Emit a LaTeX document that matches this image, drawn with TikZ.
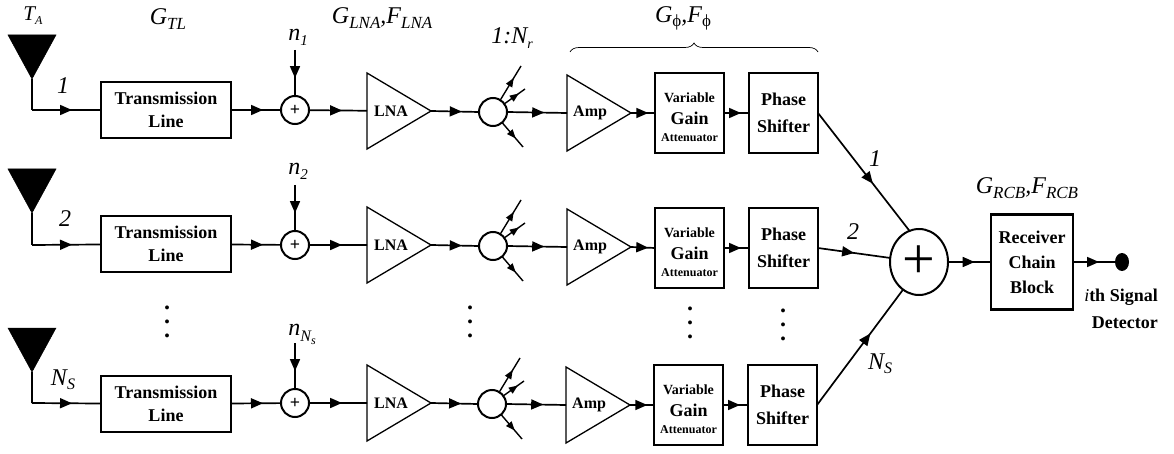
\documentclass[tikz,border=0pt]{standalone}
\usepackage{fontspec}
\usepackage{tikz}
\setmainfont{Liberation Serif}
\usetikzlibrary{calc, positioning, arrows.meta, shapes.geometric, decorations.markings, decorations.pathreplacing}

\newcommand{\fsz}[1]{\fontsize{#1}{#1}\selectfont}
\newcommand{\sbs}[3][-5pt]{\textit{#2}\raisebox{#1}{\fsz{17}\textit{#3}}}
\newcommand{\vgatext}{\rule{0pt}{18pt}\fsz{14}Variable\\[9pt]\fsz{18}Gain\\[5pt]\fsz{12}Attenuator}

\begin{document}
\begin{tikzpicture}[x=1pt,y=1pt,line width=1.7pt,node distance=20pt,
                    box node/.style={rectangle,draw,line width=2.2pt,inner sep=0pt,outer sep=0pt,align=center,font=\bfseries},
                    tl node/.style={box node,minimum width=130pt,minimum height=56pt,font=\bfseries\fontsize{18}{23}\selectfont},
                    vga node/.style={box node,minimum width=69pt,minimum height=80pt},
                    ps node/.style={box node,minimum width=69pt,minimum height=80pt,font=\bfseries\fontsize{18}{27}\selectfont},
                    rcb node/.style={box node,minimum width=82pt,minimum height=95pt,font=\bfseries\fontsize{18}{25}\selectfont},
                    ant node/.style={isosceles triangle,isosceles triangle stretches,shape border rotate=-90,fill=black,draw,line width=.5pt,
                                     inner sep=0pt,outer sep=0pt,minimum width=48pt,minimum height=44pt,anchor=apex},
                    tri node/.style={isosceles triangle,isosceles triangle stretches,draw,line width=1.3pt,inner sep=0pt,outer sep=0pt,
                                     minimum width=76pt,minimum height=64pt,font=\bfseries\fsz{16}},
                    sum node/.style={circle,draw,line width=2pt,inner sep=0pt,outer sep=0pt,minimum size=28pt,font=\bfseries\fsz{18}},
                    sp node/.style={circle,draw,line width=2pt,inner sep=0pt,outer sep=0pt,minimum size=28pt},
                    lab/.style={inner sep=0pt,font=\fsz{24}\itshape},
                    dots node/.style={inner sep=0pt,align=center,font=\bfseries\fontsize{24}{14}\selectfont},
                    flow/.style={postaction={decorate},decoration={markings,mark=at position #1 with {\arrow{Triangle[length=12pt,width=10pt]}}}},
                    flow/.default=.6,
                    fine/.style={line width=1.4pt,postaction={decorate},decoration={markings,mark=at position #1 with {\arrow{Triangle[length=9pt,width=7pt]}}}},
                    fine/.default=.65]

 \useasboundingbox (0,0) rectangle (1174,453);

 % first row
 \node[ant node] (a1) at (32,374) {};
 \coordinate[below=31pt of a1.apex] (c1);
 \node[tl node] (tl1) [right=69pt of c1] {Transmission\\Line};
 \node[sum node] (s1) [right=50pt of tl1] {+};
 \node[tri node] (lna1) [right=58pt of s1,yshift=-1pt] {LNA};
 \node[sp node] (sp1) [right=48pt of lna1,yshift=-1pt] {};
 \node[tri node] (amp1) [right=60pt of sp1,yshift=-1pt] {Amp};
 \node[vga node] (vga1) [right=24pt of amp1] {\vgatext};
 \node[ps node] (ps1) [right=25pt of vga1] {Phase\\Shifter};
 \coordinate (n1) at ($(s1)+(0pt,60pt)$);
 \coordinate (u1) at ($(sp1)+(28pt,46pt)$);
 \coordinate (v1) at ($(sp1)+(32pt,23pt)$);
 \coordinate (w1) at ($(sp1)+(30pt,-35pt)$);

 % second row
 \node[ant node] (a2) at (32,240) {};
 \coordinate[below=32pt of a2.apex] (c2);
 \node[tl node] (tl2) [right=69pt of c2,yshift=1pt] {Transmission\\Line};
 \node[sum node] (s2) [right=50pt of tl2,yshift=-1pt] {+};
 \node[tri node] (lna2) [right=58pt of s2] {LNA};
 \node[sp node] (sp2) [right=48pt of lna2,yshift=-1pt] {};
 \node[tri node] (amp2) [right=60pt of sp2,yshift=-1pt] {Amp};
 \node[vga node] (vga2) [right=24pt of amp2,yshift=-1pt] {\vgatext};
 \node[ps node] (ps2) [right=25pt of vga2] {Phase\\Shifter};
 \coordinate (n2) at ($(s2)+(0pt,60pt)$);
 \coordinate (u2) at ($(sp2)+(28pt,46pt)$);
 \coordinate (v2) at ($(sp2)+(32pt,23pt)$);
 \coordinate (w2) at ($(sp2)+(30pt,-35pt)$);

 % third row
 \node[ant node] (a3) at (32,81) {};
 \coordinate[below=31pt of a3.apex] (c3);
 \node[tl node] (tl3) [right=69pt of c3,yshift=-1pt] {Transmission\\Line};
 \node[sum node] (s3) [right=50pt of tl3,yshift=1pt] {+};
 \node[tri node] (lna3) [right=58pt of s3] {LNA};
 \node[sp node] (sp3) [right=47pt of lna3,yshift=-1pt] {};
 \node[tri node] (amp3) [right=60pt of sp3,yshift=-1pt] {Amp};
 \node[vga node] (vga3) [right=24pt of amp3] {\vgatext};
 \node[ps node] (ps3) [right=25pt of vga3] {Phase\\Shifter};
 \coordinate (n3) at ($(s3)+(0pt,60pt)$);
 \coordinate (u3) at ($(sp3)+(28pt,46pt)$);
 \coordinate (v3) at ($(sp3)+(32pt,23pt)$);
 \coordinate (w3) at ($(sp3)+(30pt,-35pt)$);

 % combiner and detector
 \node[ellipse,draw,line width=2pt,inner sep=0pt,outer sep=0pt,minimum width=58pt,minimum height=66pt,font=\fsz{58}] (sum) at (919,191) {\raisebox{-3pt}{+}};
 \node[rcb node] (rcb) [right=43pt of sum] {Receiver\\Chain\\Block};
 \node[ellipse,fill=black,inner sep=0pt,outer sep=0pt,minimum width=14pt,minimum height=18pt] (det) [right=42pt of rcb] {};

 \path[every edge/.style={draw,line width=2.6pt}]
 (a1.apex) edge (c1)
 (a2.apex) edge (c2)
 (a3.apex) edge (c3);

 \path
 (c1) edge[flow=.58] (tl1)
 (tl1) edge[flow=.64] (s1)
 (s1) edge[flow=.57] (lna1)
 (lna1.east) edge[flow=.64] (sp1.west)
 (sp1.east) edge[flow=.62] (amp1.west)
 (amp1.east) edge[flow=.72] (vga1.west)
 (vga1.east) edge[flow=.68] (ps1.west)
 (n1) edge[flow=.61] (s1)
 (sp1) edge[fine] (u1)
 (sp1) edge[fine=.7] (v1)
 (sp1) edge[fine] (w1);

 \path
 (c2) edge[flow=.58] (tl2)
 (tl2) edge[flow=.64] (s2)
 (s2) edge[flow=.57] (lna2)
 (lna2.east) edge[flow=.64] (sp2.west)
 (sp2.east) edge[flow=.62] (amp2.west)
 (amp2.east) edge[flow=.72] (vga2.west)
 (vga2.east) edge[flow=.68] (ps2.west)
 (n2) edge[flow=.61] (s2)
 (sp2) edge[fine] (u2)
 (sp2) edge[fine=.7] (v2)
 (sp2) edge[fine] (w2);

 \path
 (c3) edge[flow=.58] (tl3)
 (tl3) edge[flow=.64] (s3)
 (s3) edge[flow=.57] (lna3)
 (lna3.east) edge[flow=.64] (sp3.west)
 (sp3.east) edge[flow=.62] (amp3.west)
 (amp3.east) edge[flow=.72] (vga3.west)
 (vga3.east) edge[flow=.68] (ps3.west)
 (n3) edge[flow=.61] (s3)
 (sp3) edge[fine] (u3)
 (sp3) edge[fine=.7] (v3)
 (sp3) edge[fine] (w3);

 \path
 (ps1.east) edge[flow=.6] (sum.107)
 (ps2.east) edge[flow=.5] (sum.172)
 (ps3.east) edge[flow=.62] (sum.240)
 (sum) edge[flow=.62] (rcb)
 (rcb) edge[flow=.62] (det);

 % brace over the phase chain
 \coordinate (b1) at (570,401);
 \coordinate (b2) at (818,401);
 \draw[line width=.7pt,decorate,decoration={brace,amplitude=9pt}] (b1) -- (b2);

 % labels
 \node[lab,font=\fsz{21}\itshape] (ta) at (33,437) {\textit{T}\raisebox{-4pt}{\fsz{12}\textit{A}}};
 \node[lab] (gtl) [above=52pt of tl1,xshift=2pt] {\sbs{G}{TL}};
 \node[lab] (glna) [above=58pt of lna1,xshift=-9pt] {\sbs{G}{LNA},\sbs{F}{LNA}};
 \node[lab] (gphi) at (683,435) {\textit{G}\raisebox{-4pt}{\fsz{17}\textup{ϕ}},\textit{F}\raisebox{-4pt}{\fsz{17}\textup{ϕ}}};
 \node[lab] (gsp) at (512,415) {\textit{1:N}\raisebox{-5pt}{\fsz{14}\textit{r}}};
 \node[lab] (grcb) at (1027,265) {\sbs{G}{RCB},\sbs{F}{RCB}};
 \node[lab] (nl1) at (298,416) {\textit{n}\raisebox{-5pt}{\fsz{15}\textit{1}}};
 \node[lab] (nl2) at (298,282) {\textit{n}\raisebox{-5pt}{\fsz{15}\textit{2}}};
 \node[lab] (nl3) at (302,119) {\textit{n}\raisebox{-6pt}{\fsz{16}\textit{N}\raisebox{-3pt}{\fsz{12}\textit{s}}}};
 \node[lab] (l1) at (63,367) {1};
 \node[lab] (l2) at (65,234) {2};
 \node[lab] (l3) at (63,73) {\textit{N}\raisebox{-4pt}{\fsz{16}\textit{S}}};
 \node[lab] (r1) at (875,294) {1};
 \node[lab] (r2) at (853,221) {2};
 \node[lab] (r3) at (880,89) {\textit{N}\raisebox{-4pt}{\fsz{16}\textit{S}}};
 \node[align=right,inner sep=0pt,font=\bfseries\fontsize{18}{27}\selectfont] (detl) at (1121,144) {\textit{\mdseries i}th Signal\\Detector};

 \node[dots node] (d1) at (167,131) {.\\.\\.};
 \node[dots node] (d2) at (470,131) {.\\.\\.};
 \node[dots node] (d3) at (690,130) {.\\.\\.};
 \node[dots node] (d4) at (783,128) {.\\.\\.};

\end{tikzpicture}
\end{document}
